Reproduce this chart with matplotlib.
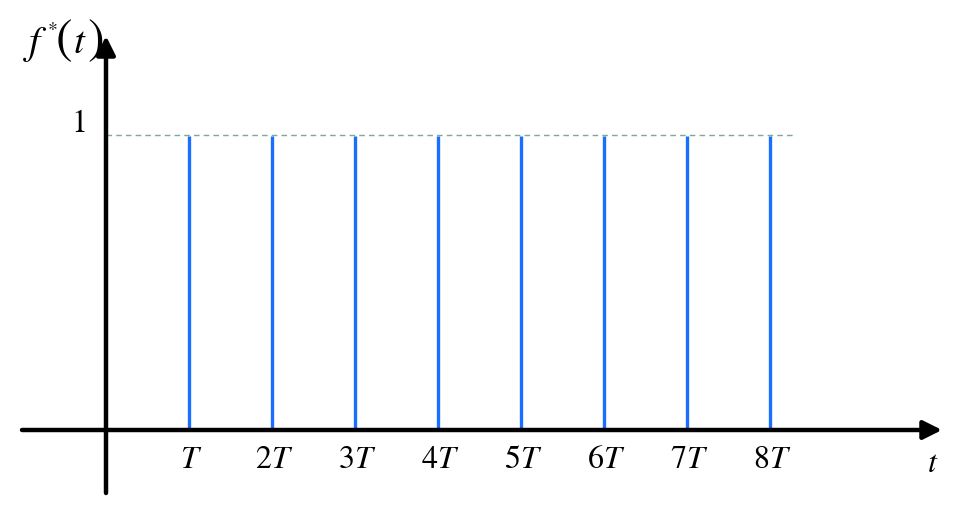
import matplotlib
matplotlib.use("Agg")
import matplotlib.pyplot as plt

# data
n_samples = [1, 2, 3, 4, 5, 6, 7, 8]
values = [1, 1, 1, 1, 1, 1, 1, 1]
tick_labels = [r"$T$", r"$2T$", r"$3T$", r"$4T$", r"$5T$", r"$6T$", r"$7T$", r"$8T$"]

plt.rcParams['mathtext.fontset'] = 'stix'

fig = plt.figure(figsize=(9.67, 5.2), dpi=100)
ax = fig.add_axes([0, 0, 1, 1])
PX_T = 83.0
PX_Y = 294.0
x0, y0 = 106, 430
ax.set_xlim(-x0 / PX_T, (967 - x0) / PX_T)
ax.set_ylim(-(520 - y0) / PX_Y, y0 / PX_Y)
ax.axis('off')

def px(x):
    return (x - x0) / PX_T

def py(y):
    return (y0 - y) / PX_Y

# dashed reference line at 1
ax.plot([0, px(795)], [1.005, 1.005], color='#7fa89a', lw=1.0, ls=(0, (4, 3)), zorder=1)

# stems
for n, v in zip(n_samples, values):
    ax.plot([n, n], [0, v], color='#1a6fff', lw=2.4, solid_capstyle='butt', zorder=2)

# axes with arrows
ax.annotate('', xy=(px(942), 0), xytext=(px(22), 0),
            arrowprops=dict(arrowstyle='-|>', lw=3.2, color='black', mutation_scale=28,
                            shrinkA=0, shrinkB=0), zorder=3)
ax.annotate('', xy=(0, py(36)), xytext=(0, py(493)),
            arrowprops=dict(arrowstyle='-|>', lw=3.2, color='black', mutation_scale=28,
                            shrinkA=0, shrinkB=0), zorder=3)

# tick labels
for n, lab in zip(n_samples, tick_labels):
    ax.text(n + 0.02, py(459), lab, fontsize=23, ha='center', va='center')

ax.text(px(933), py(463), r"$t$", fontsize=23, ha='center', va='center')
ax.text(px(78), py(123), r"$1$", fontsize=23, ha='center', va='center')
ax.text(px(35), py(44), r"$f$", fontsize=29, ha='center', va='center')
ax.text(px(52), py(27), r"$*$", fontsize=14, ha='center', va='center')
ax.text(px(64), py(40), r"$($", fontsize=36, ha='center', va='center')
ax.text(px(80), py(42), r"$t$", fontsize=28, ha='center', va='center')
ax.text(px(95), py(40), r"$)$", fontsize=36, ha='center', va='center')

fig.savefig("out.png", dpi=100)
